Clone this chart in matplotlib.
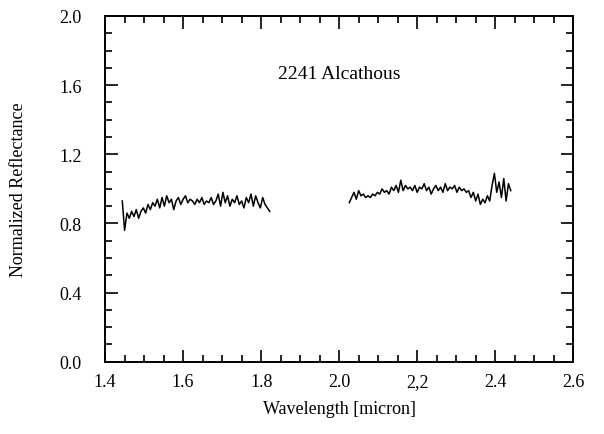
import matplotlib
matplotlib.use("Agg")
import matplotlib.pyplot as plt
from matplotlib.ticker import MultipleLocator

# segment 1 (H band)
wave_h = [1.444, 1.450, 1.456, 1.462, 1.468, 1.474, 1.480, 1.486, 1.492, 1.498,
          1.504, 1.510, 1.516, 1.522, 1.528, 1.534, 1.540, 1.546, 1.552, 1.558,
          1.564, 1.570, 1.576, 1.582, 1.588, 1.594, 1.600, 1.606, 1.612, 1.618,
          1.624, 1.630, 1.636, 1.642, 1.648, 1.654, 1.660, 1.666, 1.672, 1.678,
          1.684, 1.690, 1.696, 1.702, 1.708, 1.714, 1.720, 1.726, 1.732, 1.738,
          1.744, 1.750, 1.756, 1.762, 1.768, 1.774, 1.780, 1.786, 1.792, 1.798,
          1.804, 1.810, 1.816, 1.822]
refl_h = [0.93, 0.76, 0.86, 0.83, 0.87, 0.84, 0.88, 0.83, 0.87, 0.89,
          0.86, 0.91, 0.88, 0.92, 0.90, 0.94, 0.89, 0.95, 0.90, 0.96,
          0.92, 0.94, 0.88, 0.93, 0.95, 0.91, 0.94, 0.96, 0.92, 0.94,
          0.93, 0.91, 0.94, 0.92, 0.95, 0.91, 0.93, 0.92, 0.95, 0.91,
          0.93, 0.97, 0.90, 0.98, 0.92, 0.96, 0.90, 0.94, 0.92, 0.96,
          0.91, 0.93, 0.89, 0.95, 0.92, 0.97, 0.90, 0.96, 0.92, 0.89,
          0.95, 0.91, 0.89, 0.87]

# segment 2 (K band)
wave_k = [2.026, 2.032, 2.038, 2.044, 2.050, 2.056, 2.062, 2.068, 2.074, 2.080,
          2.086, 2.092, 2.098, 2.104, 2.110, 2.116, 2.122, 2.128, 2.134, 2.140,
          2.146, 2.152, 2.158, 2.164, 2.170, 2.176, 2.182, 2.188, 2.194, 2.200,
          2.206, 2.212, 2.218, 2.224, 2.230, 2.236, 2.242, 2.248, 2.254, 2.260,
          2.266, 2.272, 2.278, 2.284, 2.290, 2.296, 2.302, 2.308, 2.314, 2.320,
          2.326, 2.332, 2.338, 2.344, 2.350, 2.356, 2.362, 2.368, 2.374, 2.380,
          2.386, 2.392, 2.398, 2.404, 2.410, 2.416, 2.422, 2.428, 2.434, 2.440]
refl_k = [0.92, 0.95, 0.98, 0.94, 0.99, 0.96, 0.97, 0.95, 0.96, 0.95,
          0.97, 0.96, 0.98, 0.97, 1.00, 0.98, 0.99, 0.97, 1.01, 0.99,
          1.02, 0.98, 1.05, 0.99, 1.02, 1.00, 1.01, 0.99, 1.02, 0.98,
          1.01, 1.00, 1.03, 0.99, 1.01, 0.97, 1.00, 1.02, 0.99, 1.01,
          0.98, 1.03, 0.99, 1.01, 1.00, 1.02, 0.98, 1.01, 0.99, 1.00,
          0.98, 0.99, 0.95, 0.98, 0.93, 0.97, 0.91, 0.94, 0.92, 0.96,
          0.93, 1.02, 1.09, 0.98, 1.04, 0.95, 1.06, 0.93, 1.03, 0.99]

x_ticks = [1.4, 1.6, 1.8, 2.0, 2.2, 2.4, 2.6]
x_labels = ["1.4", "1.6", "1.8", "2.0", "2,2", "2.4", "2.6"]
y_ticks = [0.0, 0.4, 0.8, 1.2, 1.6, 2.0]
y_labels = ["0.0", "0.4", "0.8", "1.2", "1.6", "2.0"]
title = "2241 Alcathous"

plt.rcParams["font.family"] = ["Liberation Serif", "DejaVu Serif"]

fig = plt.figure(figsize=(6.04, 4.35), dpi=100)
ax = fig.add_axes([0.174, 0.166, 0.775, 0.795])

ax.plot(wave_h, refl_h, color="black", linewidth=1.1)
ax.plot(wave_k, refl_k, color="black", linewidth=1.1)

ax.set_xlim(1.4, 2.6)
ax.set_ylim(0.0, 2.0)
ax.set_xticks(x_ticks)
ax.set_xticklabels(x_labels)
ax.set_yticks(y_ticks)
ax.set_yticklabels(y_labels)
ax.xaxis.set_minor_locator(MultipleLocator(0.05))
ax.yaxis.set_minor_locator(MultipleLocator(0.1))

ax.tick_params(which="both", direction="in", top=True, right=True, width=1.2,
               labelsize=13)
ax.tick_params(axis="x", which="major", length=9, pad=8)
ax.tick_params(axis="y", which="major", length=9, pad=17)
ax.tick_params(which="minor", length=5)
for sp in ax.spines.values():
    sp.set_linewidth(1.4)

ax.set_xlabel("Wavelength [micron]", fontsize=13, va="center")
ax.xaxis.set_label_coords(0.5, -0.136)
ax.set_ylabel("Normalized Reflectance", fontsize=13, va="center")
ax.yaxis.set_label_coords(-0.186, 0.5)
ax.text(2.0, 1.67, title, fontsize=14, ha="center", va="center")

fig.savefig("out.png", dpi=100)
